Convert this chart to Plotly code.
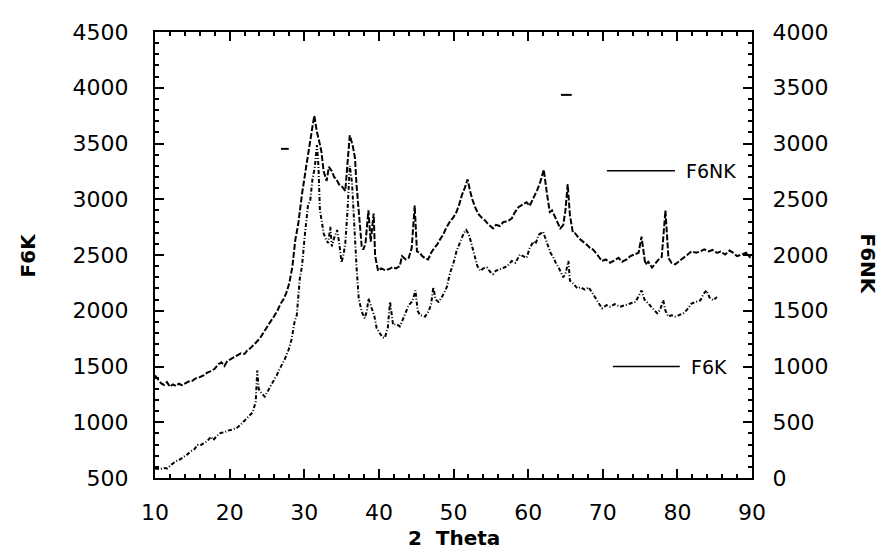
import plotly.graph_objects as go

# ---------------- data ----------------
# F6NK (upper trace) - right axis units
f6nk_x = [10.0, 10.4, 10.8, 11.2, 11.6, 12.0, 12.4, 12.8, 13.2, 13.6, 14.0, 14.5, 15.0, 15.5, 16.0, 16.5,
          17.0, 17.5, 18.0, 18.5, 18.9, 19.3, 19.7, 20.1, 20.6, 21.0, 21.5, 22.0, 22.3, 22.8, 23.2, 23.6,
          24.1, 24.5, 25.0, 25.5, 26.0, 26.4, 26.8, 27.2, 27.6, 28.0, 28.4, 28.8, 29.2, 29.7, 30.3, 30.8,
          31.1, 31.35, 31.7, 32.0, 32.3, 32.6, 33.0, 33.3, 33.7, 34.0, 34.3, 34.7, 35.1, 35.5, 35.8, 36.1,
          36.5, 36.8, 37.0, 37.3, 37.7, 37.9, 38.2, 38.6, 38.9, 39.3, 39.5, 39.9, 40.3, 40.8, 41.3, 41.8,
          42.3, 42.8, 43.1, 43.6, 44.0, 44.4, 44.8, 45.1, 45.5, 45.8, 46.2, 46.6, 47.0, 47.4, 47.8, 48.2,
          48.6, 49.0, 49.5, 50.0, 50.4, 50.8, 51.1, 51.5, 51.9, 52.2, 52.5, 52.9, 53.3, 53.7, 54.2, 54.6,
          55.0, 55.3, 55.7, 56.2, 56.7, 57.2, 57.8, 58.2, 58.7, 59.2, 59.8, 60.2, 60.7, 61.2, 61.6, 62.1,
          62.5, 62.9, 63.2, 63.6, 64.0, 64.3, 64.7, 65.0, 65.3, 65.6, 66.0, 66.3, 66.8, 67.4, 67.9, 68.3,
          68.7, 69.3, 69.9, 70.4, 71.0, 71.5, 72.1, 72.6, 73.2, 73.7, 74.3, 74.8, 75.2, 75.7, 76.1, 76.6,
          77.0, 77.5, 77.9, 78.4, 78.8, 79.2, 79.7, 80.2, 80.8, 81.3, 81.9, 82.5, 83.1, 83.6, 84.2, 84.7,
          85.3, 85.8, 86.4, 87.0, 87.5, 88.0, 88.6, 89.2, 89.8]
f6nk_y = [920, 890, 850, 835, 860, 818, 840, 825, 845, 832, 850, 865, 872, 895, 905, 920,
          945, 958, 980, 1020, 1037, 1005, 1050, 1066, 1085, 1100, 1118, 1112, 1140, 1165, 1190, 1220,
          1257, 1301, 1360, 1405, 1455, 1500, 1560, 1600, 1660, 1750, 1890, 2136, 2280, 2547, 2810, 3044,
          3150, 3250, 3103, 3020, 2927, 2750, 2664, 2790, 2752, 2700, 2678, 2630, 2610, 2576, 2800, 3074,
          2980, 2869, 2634, 2371, 2077, 2048, 2100, 2400, 2120, 2371, 1990, 1858, 1880, 1865, 1872, 1890,
          1880, 1901, 1990, 1960, 1975, 2063, 2444, 2033, 2019, 1990, 1970, 1960, 2020, 2060, 2092, 2140,
          2180, 2240, 2297, 2340, 2385, 2460, 2532, 2600, 2678, 2580, 2503, 2430, 2371, 2340, 2312, 2280,
          2260, 2239, 2270, 2260, 2297, 2300, 2327, 2380, 2429, 2450, 2473, 2440, 2503, 2580, 2649, 2766,
          2561, 2385, 2400, 2341, 2280, 2239, 2268, 2400, 2635, 2356, 2200, 2195, 2150, 2121, 2090, 2063,
          2048, 2000, 1946, 1960, 1931, 1950, 1975, 1940, 1960, 1990, 2004, 2020, 2165, 1916, 1940, 1887,
          1920, 1960, 1980, 2400, 1975, 1930, 1916, 1940, 1975, 2000, 2033, 2020, 2033, 2050, 2033, 2045,
          2019, 2030, 2004, 2040, 2019, 1990, 2004, 2020, 1975]

# F6K (lower trace) - left axis units
f6k_x = [10.0, 10.6, 11.2, 11.6, 12.2, 12.8, 13.3, 13.8, 14.3, 14.8, 15.3, 15.7, 16.0, 16.5, 17.0, 17.5,
         17.8, 18.3, 18.8, 19.3, 19.8, 20.4, 21.0, 21.5, 22.1, 22.7, 23.1, 23.5, 23.7, 23.9, 24.1, 24.7,
         25.2, 25.8, 26.3, 26.8, 27.4, 27.9, 28.3, 28.7, 29.0, 29.4, 29.7, 30.1, 30.5, 30.8, 31.1, 31.4,
         31.7, 31.9, 32.1, 32.4, 32.6, 32.9, 33.2, 33.5, 33.7, 34.0, 34.4, 34.7, 35.0, 35.3, 35.5, 35.8,
         36.1, 36.4, 36.7, 37.0, 37.3, 37.7, 38.1, 38.4, 38.6, 39.0, 39.4, 39.7, 40.2, 40.5, 40.8, 41.2,
         41.5, 41.9, 42.4, 42.8, 43.1, 43.6, 44.0, 44.4, 44.6, 44.9, 45.2, 45.5, 45.9, 46.2, 46.7, 47.0,
         47.3, 47.6, 48.0, 48.5, 49.1, 49.5, 50.0, 50.4, 50.8, 51.1, 51.4, 51.7, 52.0, 52.2, 52.6, 52.9,
         53.2, 53.6, 54.0, 54.5, 54.9, 55.3, 55.7, 56.2, 56.7, 57.2, 57.8, 58.3, 58.9, 59.3, 59.8, 60.2,
         60.7, 61.0, 61.4, 62.0, 62.3, 62.7, 63.0, 63.4, 63.7, 64.1, 64.4, 64.7, 65.0, 65.4, 65.6, 66.1,
         66.6, 67.0, 67.6, 68.1, 68.6, 69.2, 69.6, 69.9, 70.5, 71.0, 71.6, 72.3, 73.0, 73.7, 74.4, 75.2,
         75.6, 76.1, 76.7, 77.3, 77.7, 78.1, 78.4, 78.8, 79.2, 79.7, 80.2, 80.8, 81.3, 81.9, 82.5, 83.1,
         83.5, 83.9, 84.3, 84.8, 85.3]
f6k_y = [585, 580, 590, 585, 620, 650, 665, 687, 710, 740, 760, 795, 790, 810, 830, 870,
         840, 878, 905, 910, 925, 935, 951, 980, 1020, 1054, 1090, 1186, 1464, 1300, 1274, 1230,
         1290, 1350, 1420, 1490, 1567, 1650, 1742, 1900, 1962, 2285, 2400, 2695, 2944, 2988, 3180, 3280,
         3486, 3300, 2900, 2780, 2695, 2640, 2607, 2753, 2577, 2650, 2724, 2600, 2431, 2520, 2607, 2900,
         3300, 3150, 2750, 2400, 2109, 1992, 1933, 2000, 2109, 2021, 1950, 1845, 1786, 1760, 1757, 1850,
         2080, 1874, 1880, 1860, 1904, 1980, 2050, 2080, 2109, 2182, 2000, 1962, 1955, 1948, 2000, 2060,
         2211, 2100, 2080, 2130, 2211, 2329, 2430, 2533, 2600, 2651, 2700, 2724, 2690, 2651, 2560, 2475,
         2400, 2358, 2380, 2387, 2350, 2329, 2360, 2370, 2387, 2400, 2446, 2430, 2504, 2490, 2475, 2560,
         2621, 2600, 2680, 2709, 2650, 2563, 2520, 2475, 2430, 2387, 2340, 2300, 2330, 2446, 2270, 2241,
         2200, 2211, 2190, 2211, 2160, 2094, 2050, 2021, 2050, 2036, 2060, 2036, 2050, 2065, 2080, 2182,
         2100, 2065, 2020, 1977, 2010, 2094, 2000, 1948, 1960, 1948, 1960, 1977, 2010, 2065, 2080, 2094,
         2150, 2182, 2120, 2094, 2123]

x_ticks = [10, 20, 30, 40, 50, 60, 70, 80, 90]
left_ticks = [500, 1000, 1500, 2000, 2500, 3000, 3500, 4000, 4500]
right_ticks = [0, 500, 1000, 1500, 2000, 2500, 3000, 3500, 4000]

# ---------------- figure ----------------
FONT = "DejaVu Sans, Arial, sans-serif"

fig = go.Figure()
fig.add_trace(go.Scatter(x=f6nk_x, y=f6nk_y, yaxis="y2", mode="lines", name="F6NK",
                         line=dict(color="black", width=2, dash="6px,2px")))
fig.add_trace(go.Scatter(x=f6k_x, y=f6k_y, yaxis="y", mode="lines", name="F6K",
                         line=dict(color="black", width=2, dash="4px,2px,1px,2px")))

axis_common = dict(showgrid=False, zeroline=False, showline=True, linecolor="black",
                   linewidth=2, ticks="inside", tickcolor="black", tickwidth=1.5,
                   tickfont=dict(family=FONT, size=22, color="black"))
minor_common = dict(ticks="inside", tickcolor="black", tickwidth=1.5, ticklen=4)

# page body has an 8px margin, so the figure is sized to fit the 884x554 window
fig.update_layout(
    width=876, height=546,
    margin=dict(l=147, r=132, t=15, b=76),
    paper_bgcolor="white", plot_bgcolor="white",
    showlegend=False,
    xaxis=dict(range=[10, 90], tickvals=x_ticks, ticklen=9, mirror="ticks",
               minor=dict(dtick=2, **minor_common),
               ticklabelstandoff=14, **axis_common),
    yaxis=dict(range=[500, 4500], tickvals=left_ticks, ticklen=9,
               minor=dict(dtick=100, **minor_common),
               ticklabelstandoff=20, **axis_common),
    yaxis2=dict(range=[0, 4000], tickvals=right_ticks, ticklen=9, overlaying="y", side="right",
                minor=dict(dtick=100, **minor_common),
                ticklabelstandoff=14, **axis_common),
    annotations=[
        dict(text="<b>2  Theta</b>", xref="paper", yref="paper", x=0.5, y=-0.135,
             showarrow=False, xanchor="center", yanchor="middle",
             font=dict(family=FONT, size=20, color="black")),
        dict(text="<b>F6K</b>", xref="paper", yref="paper", x=-0.212, y=0.5, textangle=-90,
             showarrow=False, xanchor="center", yanchor="middle",
             font=dict(family=FONT, size=20, color="black")),
        dict(text="<b>F6NK</b>", xref="paper", yref="paper", x=1.195, y=0.48, textangle=90,
             showarrow=False, xanchor="center", yanchor="middle",
             font=dict(family=FONT, size=20, color="black")),
        dict(text="F6NK", xref="paper", yref="paper", x=0.886, y=0.689,
             showarrow=False, xanchor="left", yanchor="middle",
             font=dict(family=FONT, size=19, color="black")),
        dict(text="F6K", xref="paper", yref="paper", x=0.894, y=0.25,
             showarrow=False, xanchor="left", yanchor="middle",
             font=dict(family=FONT, size=19, color="black")),
    ],
    shapes=[
        # legend sample lines
        dict(type="line", xref="paper", yref="paper", x0=0.757, x1=0.871, y0=0.689, y1=0.689,
             line=dict(color="black", width=1.5)),
        dict(type="line", xref="paper", yref="paper", x0=0.767, x1=0.879, y0=0.25, y1=0.25,
             line=dict(color="black", width=1.5)),
        # small stray dash marks present in the original figure
        dict(type="line", xref="paper", yref="paper", x0=0.211, x1=0.224, y0=0.738, y1=0.738,
             line=dict(color="black", width=2)),
        dict(type="line", xref="paper", yref="paper", x0=0.680, x1=0.698, y0=0.859, y1=0.859,
             line=dict(color="black", width=2)),
    ],
)

fig.write_html("out.html")
